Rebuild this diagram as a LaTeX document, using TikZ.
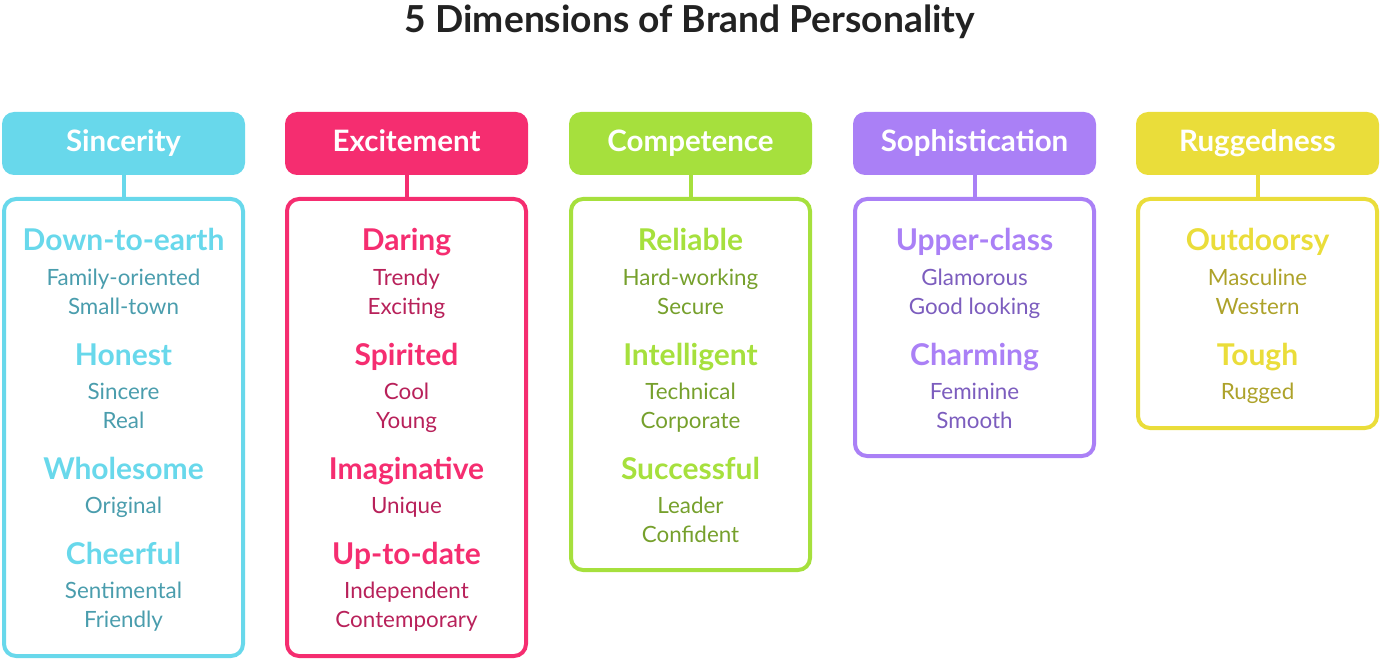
\documentclass[tikz,border=0pt]{standalone}
\usepackage{fontspec}
\setmainfont{Lato}
\definecolor{cyanA}{HTML}{68D8EB}
\definecolor{cyanB}{HTML}{4A9DAD}
\definecolor{pinkA}{HTML}{F52D70}
\definecolor{pinkB}{HTML}{B8215A}
\definecolor{greenA}{HTML}{A6E03D}
\definecolor{greenB}{HTML}{76A02C}
\definecolor{purpA}{HTML}{AA80F6}
\definecolor{purpB}{HTML}{7C5DBE}
\definecolor{yelA}{HTML}{EADD3A}
\definecolor{yelB}{HTML}{ADA22A}
\definecolor{titleC}{HTML}{222222}
\tikzset{
  head/.style={rectangle, rounded corners=12pt, fill=#1, minimum width=243pt, minimum height=63pt, inner sep=0pt, text height=21.5pt, text depth=5.5pt, text=white, font=\fontsize{29.5}{31}\selectfont\bfseries},
  panel/.style={rectangle, rounded corners=12pt, draw=#1, line width=4pt, minimum width=239pt, inner sep=0pt},
  link/.style={draw=#1, line width=4pt},
  trait/.style={text=#1, font=\fontsize{30}{32}\selectfont\bfseries, inner sep=0pt, anchor=base},
  facet/.style={text=#1, font=\fontsize{22.4}{24}\selectfont, inner sep=0pt, anchor=base},
}
\begin{document}
\begin{tikzpicture}[x=1pt,y=-1pt]
\useasboundingbox (0,0) rectangle (1380,660);
\node[text=titleC, font=\fontsize{37.2}{40}\selectfont\bfseries, inner sep=0pt, anchor=base] (title) at (690,33) {5 Dimensions of Brand Personality};
% headers
\node[head=cyanA] (h1) at (123.5,143.5) {Sincerity};
\node[head=pinkA] (h2) at (406.5,143.5) {Excitement};
\node[head=greenA] (h3) at (690.5,143.5) {Competence};
\node[head=purpA] (h4) at (974.5,143.5) {Sophistication};
\node[head=yelA] (h5) at (1257.5,143.5) {Ruggedness};
% panels
\node[panel=cyanA, minimum height=457pt] (b1) at (123.5,427.5) {};
\node[panel=pinkA, minimum height=457pt] (b2) at (406.5,427.5) {};
\node[panel=greenA, minimum height=371pt] (b3) at (690.5,384.5) {};
\node[panel=purpA, minimum height=257pt] (b4) at (974.5,327.5) {};
\node[panel=yelA, minimum height=229pt] (b5) at (1257.5,313.5) {};
% links
\draw[link=cyanA] (h1.south) -- (b1.north);
\draw[link=pinkA] (h2.south) -- (b2.north);
\draw[link=greenA] (h3.south) -- (b3.north);
\draw[link=purpA] (h4.south) -- (b4.north);
\draw[link=yelA] (h5.south) -- (b5.north);
% Sincerity
\node[trait=cyanA] (s1) at (123.5,251) {Down-to-earth};
\node[facet=cyanB] (s1a) at (123.5,285) {Family-oriented};
\node[facet=cyanB] (s1b) at (123.5,314) {Small-town};
\node[trait=cyanA] (s2) at (123.5,365) {Honest};
\node[facet=cyanB] (s2a) at (123.5,399) {Sincere};
\node[facet=cyanB] (s2b) at (123.5,428) {Real};
\node[trait=cyanA] (s3) at (123.5,479) {Wholesome};
\node[facet=cyanB] (s3a) at (123.5,513) {Original};
\node[trait=cyanA] (s4) at (123.5,564) {Cheerful};
\node[facet=cyanB] (s4a) at (123.5,598) {Sentimental};
\node[facet=cyanB] (s4b) at (123.5,627) {Friendly};
% Excitement
\node[trait=pinkA] (e1) at (406.5,251) {Daring};
\node[facet=pinkB] (e1a) at (406.5,285) {Trendy};
\node[facet=pinkB] (e1b) at (406.5,314) {Exciting};
\node[trait=pinkA] (e2) at (406.5,365) {Spirited};
\node[facet=pinkB] (e2a) at (406.5,399) {Cool};
\node[facet=pinkB] (e2b) at (406.5,428) {Young};
\node[trait=pinkA] (e3) at (406.5,479) {Imaginative};
\node[facet=pinkB] (e3a) at (406.5,513) {Unique};
\node[trait=pinkA] (e4) at (406.5,564) {Up-to-date};
\node[facet=pinkB] (e4a) at (406.5,598) {Independent};
\node[facet=pinkB] (e4b) at (406.5,627) {Contemporary};
% Competence
\node[trait=greenA] (c1) at (690.5,251) {Reliable};
\node[facet=greenB] (c1a) at (690.5,285) {Hard-working};
\node[facet=greenB] (c1b) at (690.5,314) {Secure};
\node[trait=greenA] (c2) at (690.5,365) {Intelligent};
\node[facet=greenB] (c2a) at (690.5,399) {Technical};
\node[facet=greenB] (c2b) at (690.5,428) {Corporate};
\node[trait=greenA] (c3) at (690.5,479) {Successful};
\node[facet=greenB] (c3a) at (690.5,513) {Leader};
\node[facet=greenB] (c3b) at (690.5,542) {Confident};
% Sophistication
\node[trait=purpA] (p1) at (974.5,251) {Upper-class};
\node[facet=purpB] (p1a) at (974.5,285) {Glamorous};
\node[facet=purpB] (p1b) at (974.5,314) {Good looking};
\node[trait=purpA] (p2) at (974.5,365) {Charming};
\node[facet=purpB] (p2a) at (974.5,399) {Feminine};
\node[facet=purpB] (p2b) at (974.5,428) {Smooth};
% Ruggedness
\node[trait=yelA] (r1) at (1257.5,251) {Outdoorsy};
\node[facet=yelB] (r1a) at (1257.5,285) {Masculine};
\node[facet=yelB] (r1b) at (1257.5,314) {Western};
\node[trait=yelA] (r2) at (1257.5,365) {Tough};
\node[facet=yelB] (r2a) at (1257.5,399) {Rugged};
\end{tikzpicture}
\end{document}
